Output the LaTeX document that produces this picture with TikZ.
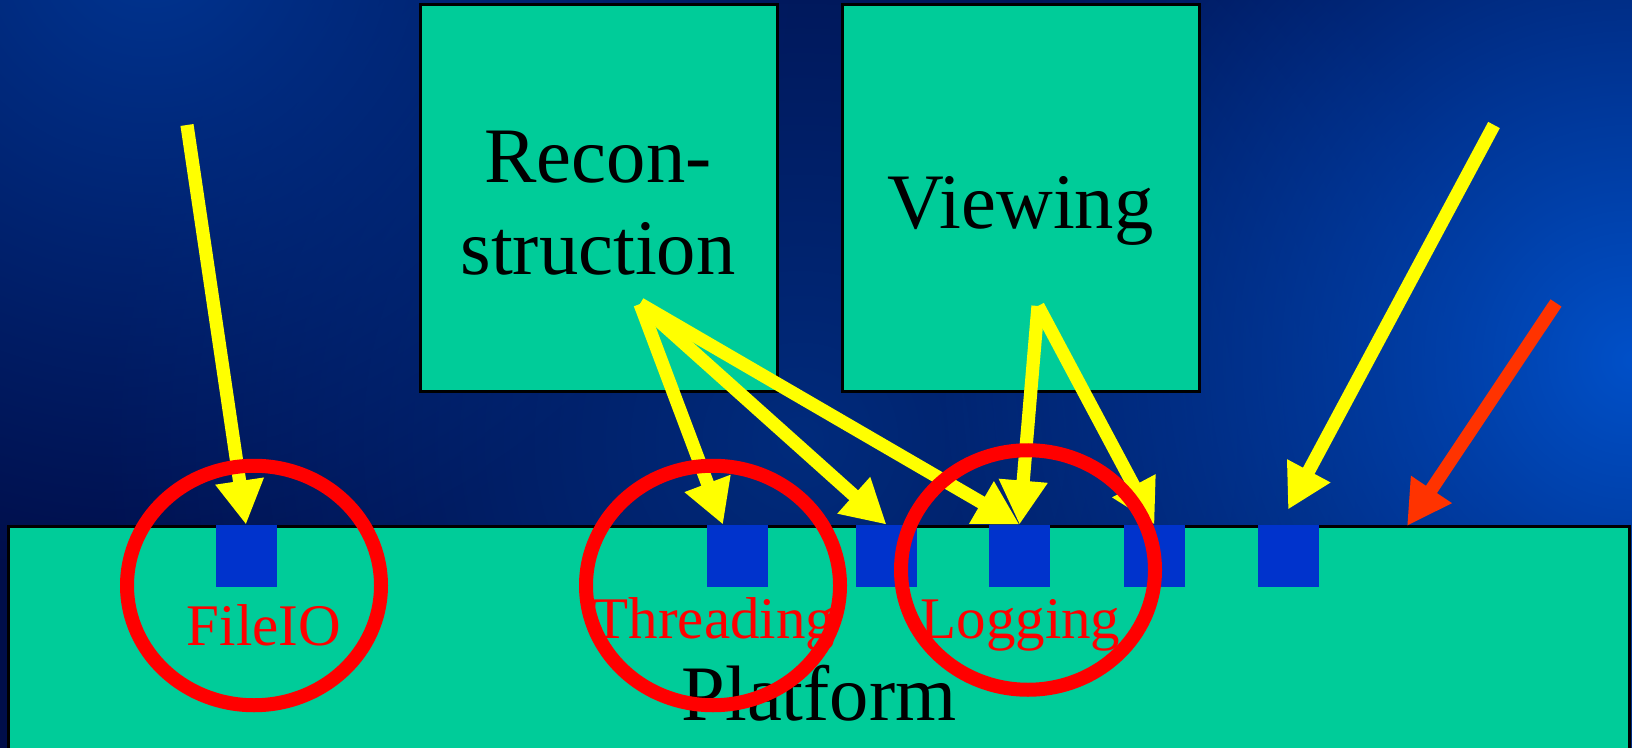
\documentclass[tikz,border=0pt]{standalone}
\usepackage{fontspec}
\setmainfont{Liberation Serif}
\usetikzlibrary{arrows.meta,calc,fadings,shapes.geometric}
\definecolor{boxteal}{HTML}{00CC99}
\definecolor{sqblue}{HTML}{0033CC}
\definecolor{ringred}{HTML}{FF0000}
\definecolor{arrowyellow}{HTML}{FFFF00}
\definecolor{arroworange}{HTML}{FF3300}
\definecolor{bgbase}{HTML}{000E4A}
\definecolor{bgglow}{HTML}{0050C8}
\definecolor{bgtop}{HTML}{003592}
\definecolor{bgmid}{HTML}{002B7C}
\tikzfading[name=glowfade, inner color=transparent!0, outer color=transparent!100]
\begin{document}
\begin{tikzpicture}[x=0.5pt,y=-0.5pt,
  box/.style={draw=black, line width=1.5pt, fill=boxteal, minimum width=178.5pt, minimum height=193.5pt, inner sep=0pt},
  platbox/.style={draw=black, line width=1.5pt, fill=boxteal, minimum width=810.25pt, minimum height=117pt, inner sep=0pt},
  sq/.style={fill=sqblue, minimum width=30.5pt, minimum height=31pt, inner sep=0pt},
  yarrow/.style={draw=arrowyellow, line width=6.6pt, -{Triangle[length=22pt,width=23pt]}},
  oarrow/.style={draw=arroworange, line width=6.6pt, -{Triangle[length=22pt,width=23pt]}},
  ring/.style={ellipse, draw=ringred, line width=7pt, minimum width=127pt, minimum height=119.75pt, inner sep=0pt},
  lbl/.style={text=ringred, font=\fontsize{29.5}{35}\selectfont, inner sep=0pt},
  big/.style={text=black, font=\fontsize{39.3}{46}\selectfont, inner sep=0pt}]
\useasboundingbox (0,0) rectangle (1632,748);
% background
\begin{scope}
\clip (0,0) rectangle (1632,748);
\fill[bgbase] (0,0) rectangle (1632,748);
\fill[bgmid, path fading=glowfade] (800,440) circle (700);
\fill[bgglow, path fading=glowfade] (1632,360) circle (700);
\fill[bgtop, path fading=glowfade] (150,-60) circle (650);
\end{scope}
% upper boxes
\node[box] (recon) at (598.5,198.5) {};
\node[box] (view) at (1020.5,198.5) {};
\node[big, align=center] (trecon) at (598,203) {Recon-\\struction};
\node[big, anchor=base] (tview) at (1020.5,229) {Viewing};
% platform
\node[platbox] (plat) at (818.75,643) {};
\node[sq] (sq1) at (246,556) {};
\node[sq] (sq2) at (737,556) {};
\node[sq] (sq3) at (886.5,556) {};
\node[sq] (sq4) at (1019.5,556) {};
\node[sq] (sq5) at (1154.5,556) {};
\node[sq] (sq6) at (1288,556) {};
\node[lbl, anchor=base] (tfile) at (264,645) {FileIO};
\node[lbl, anchor=base] (tthread) at (714,638) {Threading};
\node[lbl, anchor=base] (tlog) at (1020.5,638) {Logging};
\node[big, anchor=base] (tplat) at (819,720) {Platform};
% arrows
\coordinate (s1) at (187,125);
\coordinate (rs) at (640,304);
\coordinate (vs) at (1038,306);
\coordinate (s7) at (1494,125);
\coordinate (s8) at (1556,303);
\coordinate (e8) at (1407,526);
\draw[yarrow] (s1) -- (sq1.north);
\draw[yarrow] (rs) -- ($(sq2.north)+(-14,0)$);
\draw[yarrow] (rs) -- (sq3.north);
\draw[yarrow] (rs) -- (sq4.north);
\draw[yarrow] (vs) -- (sq4.north);
\draw[yarrow] (vs) -- (sq5.north);
\draw[yarrow] (s7) -- ($(sq6.north)+(0,-15)$);
\draw[oarrow] (s8) -- (e8);
% rings
\node[ring] (rfile) at (254,585.5) {};
\node[ring] (rthread) at (713,585.5) {};
\node[ring] (rlog) at (1028,570) {};
\end{tikzpicture}
\end{document}
